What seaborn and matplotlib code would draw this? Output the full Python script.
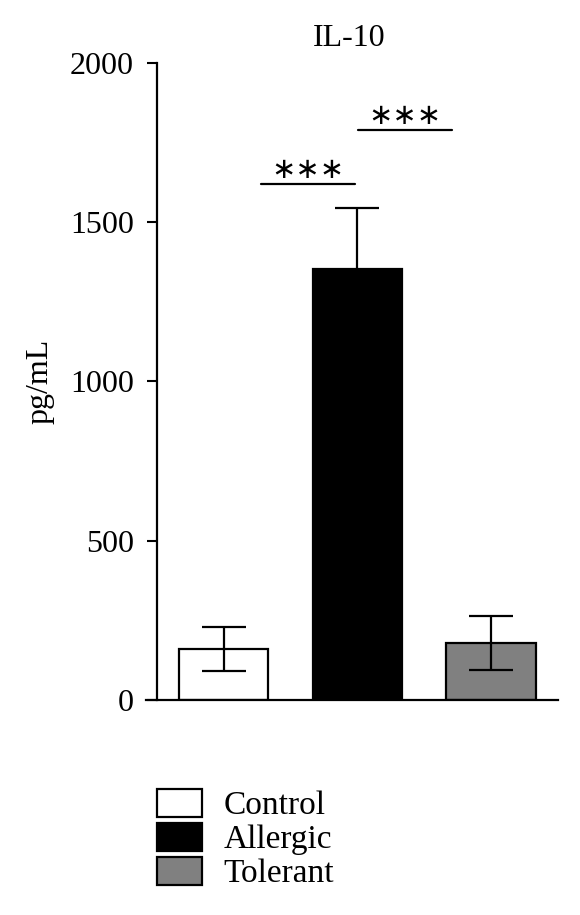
import matplotlib
matplotlib.use("Agg")
import matplotlib.pyplot as plt
import matplotlib.patches as mpatches
import pandas as pd
import seaborn as sns

sns.set_theme(style="ticks")
plt.rcParams["font.family"] = ["Liberation Serif", "DejaVu Serif"]
plt.rcParams["text.color"] = "black"
plt.rcParams["axes.labelcolor"] = "black"

# data
groups = ["Control", "Allergic", "Tolerant"]
means = [160, 1352, 179]
sems = [68, 192, 85]
colors = ["#ffffff", "#000000", "#808080"]
title = "IL-10"
ylabel = "pg/mL"
yticks = [0, 500, 1000, 1500, 2000]
# significance brackets: (x start, x end, height, label)
sig_lines = [(0.28, 0.985, 1620, "∗∗∗"), (1.007, 1.71, 1790, "∗∗∗")]

df = pd.DataFrame({"group": groups, "value": means})

fig = plt.figure(figsize=(5.8, 9.15), dpi=100)
ax = fig.add_axes([146 / 580, 1 - 700 / 915, 412 / 580, 637 / 915])

sns.barplot(data=df, x="group", y="value", hue="group", palette=colors,
            order=groups, hue_order=groups, errorbar=None, width=0.67,
            edgecolor="black", linewidth=1.6, legend=False, ax=ax)
ax.errorbar(range(len(groups)), means, yerr=sems, fmt="none", ecolor="black",
            elinewidth=1.6, capsize=16, capthick=1.6, zorder=3)

for x0, x1, h, lab in sig_lines:
    ax.plot([x0, x1], [h, h], color="black", lw=1.6, clip_on=False)
    ax.text((x0 + x1) / 2, h + 45, lab, ha="center", va="center", fontsize=21,
            family="DejaVu Sans")

ax.set_xlim(-0.58, 2.5)
ax.set_ylim(0, 2000)
ax.set_yticks(yticks)
ax.set_xticks([])
ax.set_xlabel("")
ax.set_ylabel(ylabel, fontsize=23)
ax.yaxis.set_label_coords(-0.221, 0.5)
ax.tick_params(axis="y", length=7.5, width=1.5, pad=9, labelsize=23, colors="black")
ax.spines["left"].set_position(("data", -0.5))
ax.spines["right"].set_visible(False)
ax.spines["top"].set_visible(False)
for s in ["left", "bottom"]:
    ax.spines[s].set_linewidth(1.6)
    ax.spines[s].set_color("black")

fig.text(349 / 580, 1 - 39 / 915, title, ha="center", va="center", fontsize=23)

handles = [mpatches.Patch(facecolor=c, edgecolor="black", linewidth=1.6, label=g)
           for g, c in zip(groups, colors)]
fig.legend(handles=handles, loc="upper left", bbox_to_anchor=(157 / 580, 1 - 789 / 915),
           frameon=False, fontsize=24, handlelength=1.35, handleheight=0.9,
           handletextpad=0.65, labelspacing=0.05, borderpad=0, borderaxespad=0)

fig.savefig("out.png", dpi=100)
